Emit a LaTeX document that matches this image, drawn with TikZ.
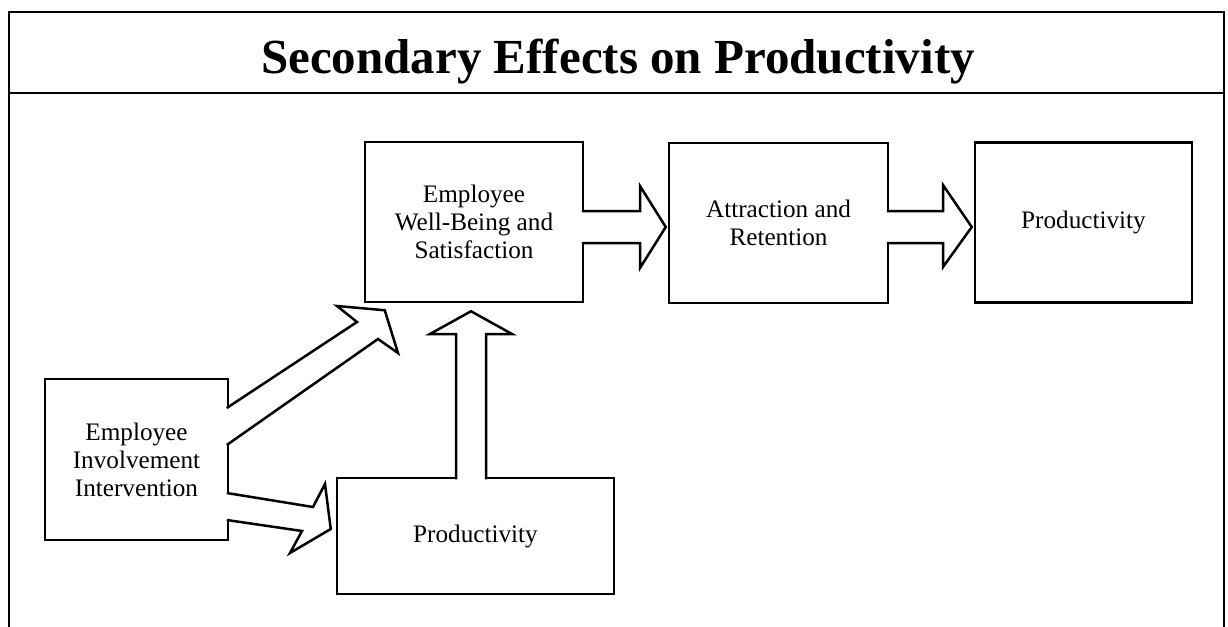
\documentclass[tikz,border=0pt]{standalone}
\usepackage{fontspec}
\setmainfont{Liberation Serif}
\usetikzlibrary{calc}

\tikzset{
  box/.style={draw, line width=1.25pt, fill=white, align=center,
    font=\fontsize{12.6}{14}\selectfont},
  blockarrow/.style={draw, line width=1.25pt, fill=white}
}

\begin{document}
\begin{tikzpicture}[x=0.5pt, y=-0.5pt]
\useasboundingbox (0,0) rectangle (1228,627);

% Frame and header
\draw[line width=1.2pt] (9,627) -- (9,12) -- (1224,12) -- (1224,627);
\draw[line width=1.2pt] (9,93) -- (1224,93);
\node[anchor=base, font=\fontsize{24.5}{28}\selectfont\bfseries] (title) at (618,73) {Secondary Effects on Productivity};

% Boxes
\node[box, minimum width=109pt, minimum height=80pt] (ewb) at (474,222) {Employee\\Well-Being and\\Satisfaction};
\node[box, minimum width=109.5pt, minimum height=80pt] (attr) at (778.5,223) {Attraction and\\Retention};
\node[box, minimum width=108.5pt, minimum height=80pt] (prodR) at (1083.5,222.5) {Productivity};
\node[box, minimum width=91.5pt, minimum height=80.5pt] (eii) at (136.5,459.5) {Employee\\Involvement\\Intervention};
\node[box, minimum width=138.5pt, minimum height=58pt] (prodB) at (475.5,536) {Productivity};

% Block arrows along the top row
\filldraw[blockarrow] ($(ewb.east)+(-2.5,-11)$) -- (640,211) -- (640,186)
  -- ($(attr.west)+(-2,4)$) -- (640,268) -- (640,243) -- ($(ewb.east)+(-2.5,21)$);
\filldraw[blockarrow] ($(attr.east)+(-2.5,-12)$) -- (943,211) -- (943,185)
  -- ($(prodR.west)+(-2,4.5)$) -- (943,267) -- (943,243) -- ($(attr.east)+(-2.5,20)$);

% Productivity back up to well-being
\filldraw[blockarrow] ($(prodB.north)+(-19.5,2.5)$) -- (456,334) -- (430,334)
  -- ($(ewb.south)+(-3,8)$) -- (512,334) -- (486,334) -- ($(prodB.north)+(10.5,2.5)$);

% From the intervention
\filldraw[blockarrow] ($(eii.east)+(-2.5,-51.5)$) -- (357,322) -- (337,306)
  -- ($(ewb.south west)+(21,7)$) -- (398,353) -- (378,339) -- ($(eii.east)+(-2.5,-14.5)$);
\filldraw[blockarrow] ($(eii.east)+(-2.5,33.5)$) -- (313,507) -- (325,484)
  -- ($(prodB.west)+(-5,-7)$) -- (290,553) -- (302,531) -- ($(eii.east)+(-2.5,60.5)$);
\end{tikzpicture}
\end{document}
